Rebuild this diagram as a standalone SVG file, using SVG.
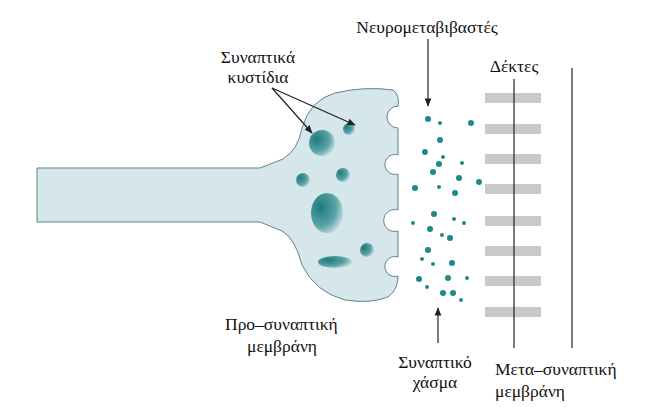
<svg xmlns="http://www.w3.org/2000/svg" width="649" height="407" viewBox="0 0 649 407">
<defs>
<radialGradient id="ves" cx="0.3" cy="0.35" r="0.8">
<stop offset="0" stop-color="#1d7b7e"/><stop offset="0.6" stop-color="#5aa3a6"/><stop offset="1" stop-color="#d8e9ec"/>
</radialGradient>
<marker id="ah" viewBox="0 0 10 10" refX="9" refY="5" markerWidth="7" markerHeight="7" orient="auto"><path d="M0,1 L10,5 L0,9 z" fill="#222"/></marker>
</defs>
<style>
text{font-family:"Liberation Serif","Times New Roman",serif;font-size:17.5px;fill:#111}
.bar{fill:#c9c9c9}
.dot{fill:#1e8a87}
.ln{stroke:#222;stroke-width:1.2;fill:none}
</style>
<rect width="649" height="407" fill="#fff"/>
<g id="presynaptic">
<path d="M37,168 L260,168 L283,159 Q298,150 302,128 Q310,100 335,93 Q365,86 393,90 Q400,95 398,106
 A10,10 0 1 0 398,128 L398,155 A10,10 0 1 0 398,174 L398,210 A11,11 0 1 0 398,231 L398,257 A10,10 0 1 0 398,276
 Q398,290 388,297 Q370,304 345,300 Q315,292 302,265 Q295,238 282,231 L260,222 L37,222 Z" fill="#d6e7eb" stroke="#5d8489" stroke-width="1"/>
<circle cx="322" cy="143" r="13" fill="url(#ves)"/>
<circle cx="349" cy="129" r="6" fill="url(#ves)"/>
<circle cx="303" cy="180" r="7" fill="url(#ves)"/>
<circle cx="343" cy="175" r="7" fill="url(#ves)"/>
<ellipse cx="327" cy="213" rx="16" ry="20" fill="url(#ves)"/>
<circle cx="367" cy="250" r="7" fill="url(#ves)"/>
<ellipse cx="335" cy="262" rx="17" ry="6" fill="url(#ves)"/>
</g>
<g id="neurotransmitters">
<circle class="dot" cx="428" cy="119" r="3"/><circle class="dot" cx="440" cy="123" r="2"/><circle class="dot" cx="471" cy="123" r="3"/>
<circle class="dot" cx="440" cy="140" r="3"/><circle class="dot" cx="425" cy="152" r="3"/><circle class="dot" cx="443" cy="157" r="2"/>
<circle class="dot" cx="439" cy="164" r="3"/><circle class="dot" cx="462" cy="163" r="2"/><circle class="dot" cx="433" cy="172" r="3"/>
<circle class="dot" cx="459" cy="178" r="3"/><circle class="dot" cx="479" cy="182" r="3"/><circle class="dot" cx="415" cy="188" r="3"/>
<circle class="dot" cx="439" cy="187" r="2"/><circle class="dot" cx="455" cy="193" r="3"/><circle class="dot" cx="434" cy="214" r="3"/>
<circle class="dot" cx="454" cy="219" r="2"/><circle class="dot" cx="464" cy="223" r="2"/><circle class="dot" cx="413" cy="223" r="2"/>
<circle class="dot" cx="430" cy="229" r="3"/><circle class="dot" cx="442" cy="235" r="2"/><circle class="dot" cx="450" cy="238" r="3"/>
<circle class="dot" cx="428" cy="250" r="3"/><circle class="dot" cx="422" cy="259" r="2"/><circle class="dot" cx="433" cy="264" r="2"/>
<circle class="dot" cx="452" cy="263" r="3"/><circle class="dot" cx="419" cy="279" r="3"/><circle class="dot" cx="448" cy="278" r="3"/>
<circle class="dot" cx="467" cy="278" r="2"/><circle class="dot" cx="427" cy="287" r="2"/><circle class="dot" cx="443" cy="293" r="3"/>
<circle class="dot" cx="453" cy="293" r="3"/><circle class="dot" cx="461" cy="300" r="2"/>
</g>
<g id="receptors">
<rect class="bar" x="485" y="93" width="56" height="10"/><rect class="bar" x="485" y="124" width="56" height="10"/>
<rect class="bar" x="485" y="154" width="56" height="10"/><rect class="bar" x="485" y="184" width="56" height="10"/>
<rect class="bar" x="485" y="216" width="56" height="10"/><rect class="bar" x="485" y="246" width="56" height="10"/>
<rect class="bar" x="485" y="276" width="56" height="10"/><rect class="bar" x="485" y="307" width="56" height="10"/>
<line x1="514" y1="79" x2="514" y2="348" stroke="#222" stroke-width="1.2"/>
</g>
<g id="postsynaptic"><line x1="572" y1="68" x2="572" y2="348" stroke="#222" stroke-width="1.2"/></g>
<g id="connectors">
<line class="ln" x1="272" y1="88" x2="312" y2="133" marker-end="url(#ah)"/>
<line class="ln" x1="272" y1="88" x2="355" y2="125" marker-end="url(#ah)"/>
<line class="ln" x1="428" y1="39" x2="428" y2="106" marker-end="url(#ah)"/>
<line class="ln" x1="438" y1="343" x2="438" y2="308" marker-end="url(#ah)"/>
</g>
<g id="labels">
<text x="258" y="63" text-anchor="middle">Συναπτικά</text>
<text x="258" y="83" text-anchor="middle">κυστίδια</text>
<text x="427" y="33" text-anchor="middle">Νευρομεταβιβαστές</text>
<text x="514" y="72" text-anchor="middle">Δέκτες</text>
<text x="225" y="330">Προ–συναπτική</text>
<text x="247" y="352">μεμβράνη</text>
<text x="435" y="368" text-anchor="middle">Συναπτικό</text>
<text x="435" y="388" text-anchor="middle">χάσμα</text>
<text x="495" y="375">Μετα–συναπτική</text>
<text x="495" y="397">μεμβράνη</text>
</g>
</svg>
